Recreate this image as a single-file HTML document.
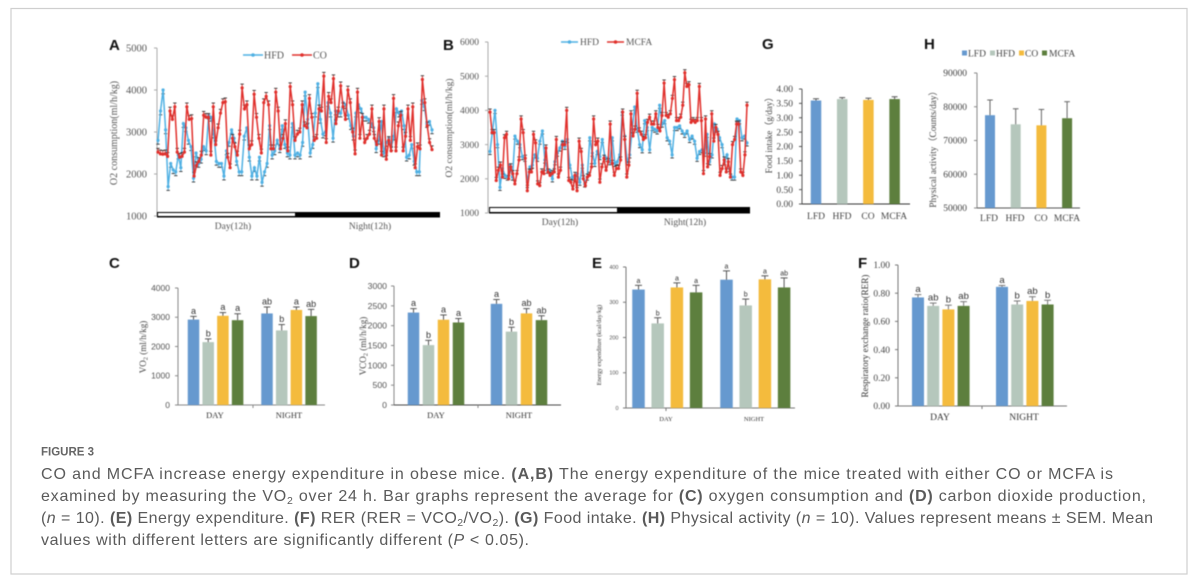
<!DOCTYPE html>
<html lang="en">
<head>
<meta charset="utf-8">
<title>Figure 3</title>
<style>
html,body{margin:0;padding:0;background:#fff;width:1200px;height:588px;overflow:hidden}
svg{display:block;position:absolute;left:0;top:0}
.serif{font-family:"Liberation Serif",serif}
.sans{font-family:"Liberation Sans",sans-serif}
.cap{font-family:"Liberation Sans",sans-serif;font-size:16px;fill:#5a5a5a}
.cap tspan.b{font-weight:bold}
.cap tspan.i{font-style:italic}
.pl{font-family:"Liberation Sans",sans-serif;font-size:15px;font-weight:bold;fill:#111}
</style>
</head>
<body>
<svg width="1200" height="588" viewBox="0 0 1200 588" xmlns="http://www.w3.org/2000/svg">
  <rect x="11" y="8.5" width="1176" height="565.5" fill="#fff" stroke="#cfcfcf" stroke-width="1.2"/>

  <g id="chart-root" style="filter:blur(.45px)">
    <text class="pl" x="109" y="50">A</text>
    <text class="pl" x="443" y="50">B</text>
    <text class="pl" x="762" y="49">G</text>
    <text class="pl" x="924" y="49">H</text>
    <text class="pl" x="109" y="268">C</text>
    <text class="pl" x="349" y="268">D</text>
    <text class="pl" x="592" y="268">E</text>
    <text class="pl" x="858" y="268">F</text>

    <text class="serif" font-size="10" fill="#555" text-anchor="middle" transform="translate(117 133) rotate(-90)">O2 consumption(ml/h/kg)</text>
    <text class="serif" font-size="9.5" fill="#555" text-anchor="middle" transform="translate(452 128) rotate(-90)">O2 consumption(ml/h/kg)</text>
    <text class="serif" font-size="9" fill="#444" text-anchor="middle" transform="translate(772 133) rotate(-90)">Food intake（g/day）</text>
    <text class="serif" font-size="9.2" fill="#444" text-anchor="middle" transform="translate(936 147) rotate(-90)">Physical activity（Counts/day）</text>
    <text class="serif" font-size="9" fill="#444" text-anchor="middle" transform="translate(146 347) rotate(-90)">VO<tspan font-size="6.5" dy="1.5">2</tspan><tspan dy="-1.5"> (ml/h/kg)</tspan></text>
    <text class="serif" font-size="9" fill="#444" text-anchor="middle" transform="translate(366 346) rotate(-90)">VCO<tspan font-size="6.5" dy="1.5">2</tspan><tspan dy="-1.5"> (ml/h/kg)</tspan></text>
    <text class="serif" font-size="6" fill="#333" text-anchor="middle" transform="translate(601 345) rotate(-90)">Energy expenditure (kcal/day/kg)</text>
    <text class="serif" font-size="9.2" fill="#333" text-anchor="middle" transform="translate(868 336) rotate(-90)">Respiratory exchange ratio(RER)</text>

    <text class="serif" font-size="9.5" fill="#555" text-anchor="middle" x="233" y="229">Day(12h)</text>
    <text class="serif" font-size="9.5" fill="#555" text-anchor="middle" x="370" y="229">Night(12h)</text>
    <text class="serif" font-size="9.5" fill="#555" text-anchor="middle" x="560" y="225">Day(12h)</text>
    <text class="serif" font-size="9.5" fill="#555" text-anchor="middle" x="685" y="225">Night(12h)</text>

    <g>
      <line x1="243" y1="55" x2="263" y2="55" stroke="#4fb0e3" stroke-width="1.5"/>
      <circle cx="253" cy="55" r="1.8" fill="#4fb0e3"/>
      <text class="serif" font-size="10" fill="#555" x="264" y="58.5">HFD</text>
      <line x1="292" y1="55" x2="312" y2="55" stroke="#e0302c" stroke-width="1.5"/>
      <circle cx="302" cy="55" r="1.8" fill="#e0302c"/>
      <text class="serif" font-size="10" fill="#555" x="313" y="58.5">CO</text>
    </g>
    <g>
      <line x1="561" y1="42" x2="578" y2="42" stroke="#4fb0e3" stroke-width="1.5"/>
      <circle cx="569.5" cy="42" r="1.8" fill="#4fb0e3"/>
      <text class="serif" font-size="9.5" fill="#555" x="580" y="45">HFD</text>
      <line x1="607" y1="42" x2="624" y2="42" stroke="#e0302c" stroke-width="1.5"/>
      <circle cx="615.5" cy="42" r="1.8" fill="#e0302c"/>
      <text class="serif" font-size="9.5" fill="#555" x="626" y="45">MCFA</text>
    </g>
    <g>
      <rect x="962" y="50.5" width="5" height="5" fill="#6699cf"/>
      <text class="serif" font-size="9.5" fill="#444" x="968" y="56.5">LFD</text>
      <rect x="990" y="50.5" width="5" height="5" fill="#b5c7bc"/>
      <text class="serif" font-size="9.5" fill="#444" x="996" y="56.5">HFD</text>
      <rect x="1019" y="50.5" width="5" height="5" fill="#f4bb3d"/>
      <text class="serif" font-size="9.5" fill="#444" x="1025" y="56.5">CO</text>
      <rect x="1042" y="50.5" width="5" height="5" fill="#5d7f3e"/>
      <text class="serif" font-size="9.5" fill="#444" x="1049" y="56.5">MCFA</text>
    </g>
  </g>

  <g style="filter:blur(.25px)">
    <text class="sans" x="41" y="455.5" font-size="11.5" font-weight="bold" fill="#666">FIGURE 3</text>
    <text class="cap" x="41" y="479" textLength="1072" lengthAdjust="spacing">CO and MCFA increase energy expenditure in obese mice. <tspan class="b">(A,B)</tspan> The energy expenditure of the mice treated with either CO or MCFA is</text>
    <text class="cap" x="41" y="501" textLength="1105" lengthAdjust="spacing">examined by measuring the VO<tspan font-size="10.5" dy="3">2</tspan><tspan dy="-3"> over 24 h. Bar graphs represent the average for </tspan><tspan class="b">(C)</tspan> oxygen consumption and <tspan class="b">(D)</tspan> carbon dioxide production,</text>
    <text class="cap" x="41" y="523" textLength="1112" lengthAdjust="spacing">(<tspan class="i">n</tspan> = 10). <tspan class="b">(E)</tspan> Energy expenditure. <tspan class="b">(F)</tspan> RER (RER = VCO<tspan font-size="10.5" dy="3">2</tspan><tspan dy="-3">/VO</tspan><tspan font-size="10.5" dy="3">2</tspan><tspan dy="-3">). </tspan><tspan class="b">(G)</tspan> Food intake. <tspan class="b">(H)</tspan> Physical activity (<tspan class="i">n</tspan> = 10). Values represent means ± SEM. Mean</text>
    <text class="cap" x="41" y="545" textLength="488" lengthAdjust="spacing">values with different letters are significantly different (<tspan class="i">P</tspan> &lt; 0.05).</text>
  </g>
</svg>

<script>
// ---- Panel A data ----
const aTicks = [1000, 2000, 3000, 4000, 5000];
const aHfd = [2800,3500,4000,3050,1700,2250,2100,2050,2450,2150,3200,3100,2800,2650,1900,2500,2250,2350,2650,2550,3400,3350,2950,2300,2250,2250,1950,2550,2750,3050,2850,2300,2050,2050,2900,3100,2400,1950,2150,1950,2400,1800,2050,2250,3150,2450,2550,2800,2600,3150,2700,2500,2450,3200,2450,2500,2450,2750,3950,3300,2500,2700,3450,4150,3300,2950,3000,3700,3450,2850,3500,3450,3450,3700,3650,3400,3150,2900,3450,3650,3550,3350,3350,3300,3200,3100,2600,2800,3250,2500,2750,2850,2650,2900,3550,3450,3500,3150,2400,2450,2700,2300,2050,2050,3750,3600,3200,3250,3050];
const aCo = [2520,2480,2470,2480,2420,3500,3300,3600,2520,2400,2420,2520,3600,3300,3320,1950,2200,2300,2450,3400,3350,3350,2450,3600,2700,3100,3450,3700,3720,2400,2150,2850,2650,2450,2950,4050,3550,3650,2600,2700,3900,3350,2850,2500,3700,3850,3650,2600,2600,3950,3500,2600,2850,3200,2550,4080,3650,2800,2950,3000,3650,3150,3100,3800,3350,2800,2850,3550,3500,4330,2750,3850,3700,4270,3200,3500,4100,3600,3300,4000,3700,3000,2480,3950,2850,3350,2750,2850,2950,3550,2850,2700,3250,2450,3550,2350,2800,2550,3800,2550,3150,3400,2550,2900,3550,2800,3600,2150,2650,2600,4250,3700,3150,2750,2580];

// ---- Panel B data ----
const bTicks = [1000, 2000, 3000, 4000, 5000, 6000];
const bHfd = [2800,3400,4000,3000,1750,2300,2100,2050,2400,2050,3250,3100,3000,2650,2600,1900,2350,2400,2700,2600,3100,3400,2550,2250,2250,2000,2500,2750,2900,3100,2950,3150,2400,2050,2000,2150,1900,2400,1850,2050,3200,2750,2450,2800,2650,3150,2650,2600,2500,3200,2450,2500,2700,3950,3250,2500,2700,3450,4100,3450,3000,2850,3700,3500,2850,3500,3450,3400,4150,3600,3700,3200,3100,2700,3500,3500,3550,3400,3300,3400,3150,3250,3100,2600,2800,2850,2750,3300,2500,2700,3600,3450,3200,3000,2500,2700,2300,2050,2050,3750,3700,3200,3250,3050];
const bMcfa = [3950,3350,3350,1950,2250,2400,2050,3200,3300,2000,2350,2150,1850,2150,2550,3750,3350,2600,1650,2200,2200,3300,3050,1850,1800,2200,2150,2900,2200,2100,2150,2200,3150,2050,2250,3000,3000,4000,1950,1900,1700,2100,1650,3100,2800,2000,1800,2050,2100,2350,3750,3000,3100,1900,2350,2600,2250,2500,3600,2450,2100,2300,2300,2550,3950,3150,2050,2400,3900,3250,3450,4500,3400,3300,3150,3200,3650,3800,3600,3600,3900,3500,3400,3850,4800,3850,3800,3900,4350,4900,3700,3700,3800,4150,5100,4700,4750,3650,3700,3650,3700,4700,3700,2150,3750,2350,2650,3900,3100,3500,3300,2100,2300,2550,2200,2500,2050,3000,3150,3600,3600,2200,2100,2700,4150];

// ---- Shared bar categories ----
const barGroups = ['DAY', 'NIGHT'];
const dietLabels = ['LFD', 'HFD', 'CO', 'MCFA'];
const barColors = ['#6699cf', '#b5c7bc', '#f4bb3d', '#5d7f3e'];

// ---- Panel C ----
const cTicks = [0, 1000, 2000, 3000, 4000];
const cValues = [[2920, 2150, 3050, 2900], [3130, 2550, 3250, 3040]];
const cErrors = [[110, 110, 110, 220], [220, 200, 100, 230]];
const cLetters = [['a', 'b', 'a', 'a'], ['ab', 'b', 'a', 'ab']];

// ---- Panel D ----
const dTicks = [0, 500, 1000, 1500, 2000, 2500, 3000];
const dValues = [[2330, 1510, 2150, 2080], [2550, 1850, 2310, 2140]];
const dErrors = [[100, 120, 120, 100], [110, 110, 120, 110]];
const dLetters = [['a', 'b', 'a', 'a'], ['a', 'b', 'ab', 'ab']];

// ---- Panel E ----
const eTicks = [0, 100, 200, 300, 400];
const eValues = [[336, 240, 342, 328], [364, 291, 365, 342]];
const eErrors = [[12, 16, 13, 20], [25, 18, 10, 27]];
const eLetters = [['a', 'b', 'a', 'a'], ['a', 'b', 'a', 'ab']];

// ---- Panel F ----
const fTicks = [0, 0.2, 0.4, 0.6, 0.8, 1];
const fValues = [[0.77, 0.71, 0.685, 0.71], [0.845, 0.72, 0.745, 0.72]];
const fErrors = [[0.02, 0.02, 0.03, 0.03], [0.01, 0.025, 0.03, 0.03]];
const fLetters = [['a', 'ab', 'b', 'ab'], ['a', 'b', 'ab', 'b']];

// ---- Panel G ----
const gTicks = [0, 0.5, 1, 1.5, 2, 2.5, 3, 3.5, 4];
const gValues = [3.6, 3.65, 3.62, 3.65];
const gErrors = [0.06, 0.05, 0.06, 0.08];

// ---- Panel H ----
const hTicks = [50000, 60000, 70000, 80000, 90000];
const hValues = [77500, 74800, 74500, 76600];
const hErrors = [4500, 4600, 4700, 4900];

const root = document.getElementById('chart-root');
const NS = 'http://www.w3.org/2000/svg';

function make(parent, tag, attrs) {
  const el = document.createElementNS(NS, tag);
  for (const k in attrs) el.setAttribute(k, attrs[k]);
  parent.appendChild(el);
  return el;
}

function linearScale(d0, d1, r0, r1) {
  return function (v) { return r0 + (v - d0) / (d1 - d0) * (r1 - r0); };
}

function drawAxes(id, ticks, o) {
  const y = linearScale(ticks[0], ticks[ticks.length - 1], o.y0, o.y1);
  const g = make(root, 'g', {});
  
  
  const yAxis = make(g, 'line', { x1: o.x0, y1: o.y0, x2: o.x0, y2: o.y1, stroke: o.axis, 'stroke-width': 1 });
  
  
  if (o.x1) {
    const xAxis = make(g, 'line', { x1: o.x0, y1: o.y0, x2: o.x1, y2: o.y0, stroke: o.xaxis || o.axis, 'stroke-width': 1 });
    
    
  }
  ticks.forEach(function (t) {
    const mark = make(g, 'line', { x1: o.x0 - 3, y1: y(t), x2: o.x0, y2: y(t), stroke: o.axis, 'stroke-width': 1 });
    
    
    const label = make(g, 'text', { x: o.labelX, y: y(t) + o.fs * 0.34, 'text-anchor': 'end', 'font-size': o.fs, fill: o.color, 'font-family': o.font });
    label.textContent = t.toFixed(o.digits || 0);
    
    
  });
  return y;
}

function drawSeries(id, values, color, err, errDir, y, x0, x1) {
  const x = linearScale(0, values.length - 1, x0, x1);
  const g = make(root, 'g', {});
  
  
  values.forEach(function (v, i) {
    const stem = make(g, 'line', { x1: x(i), x2: x(i), y1: y(v), y2: y(v + err * errDir), stroke: color, 'stroke-width': 0.9 });
    
    
    const cap = make(g, 'line', { x1: x(i) - 1.7, x2: x(i) + 1.7, y1: y(v + err * errDir), y2: y(v + err * errDir), stroke: '#333', 'stroke-width': 0.9 });
    
    
  });
  const pts = values.map(function (v, i) { return x(i).toFixed(1) + ',' + y(v).toFixed(1); }).join(' ');
  const line = make(g, 'polyline', { points: pts, fill: 'none', stroke: color, 'stroke-width': 1.5 });
  
  
  values.forEach(function (v, i) {
    const dot = make(g, 'circle', { cx: x(i), cy: y(v), r: 1.6, fill: color });
    
    
  });
}

function drawBar(id, cx, w, value, err, color, y, errColor, letter, letterFs, letterFont) {
  const bar = make(root, 'rect', { x: cx - w / 2, y: y(value), width: w, height: y.base - y(value), fill: color });
  
  
  const stem = make(root, 'line', { x1: cx, x2: cx, y1: y(value), y2: y(value + err), stroke: errColor, 'stroke-width': 1 });
  
  
  const cap = make(root, 'line', { x1: cx - w * 0.28, x2: cx + w * 0.28, y1: y(value + err), y2: y(value + err), stroke: errColor, 'stroke-width': 1 });
  
  
  if (letter) {
    const t = make(root, 'text', { x: cx, y: y(value + err) - 2.5, 'text-anchor': 'middle', 'font-size': letterFs, fill: '#333', 'font-family': letterFont });
    t.textContent = letter;
    
    
  }
}

function drawGrouped(id, ticks, values, errors, letters, o) {
  const y = drawAxes(id, ticks, o);
  y.base = o.y0;
  values.forEach(function (group, g) {
    group.forEach(function (v, i) {
      const cx = o.first + g * o.gap + i * o.step;
      drawBar(id + '-' + barGroups[g].toLowerCase() + '-' + dietLabels[i].toLowerCase(), cx, o.w, v, errors[g][i], barColors[i], y, o.errColor, letters[g][i], o.letterFs, o.letterFont);
    });
    const lbl = make(root, 'text', { x: o.catX[g], y: o.catY, 'text-anchor': 'middle', 'font-size': o.catFs, fill: '#333', 'font-family': 'Liberation Serif, serif' });
    lbl.textContent = barGroups[g];
    
    
  });
  const divider = make(root, 'line', { x1: o.tickX, x2: o.tickX, y1: o.y0, y2: o.y0 + 3, stroke: o.axis, 'stroke-width': 1 });
  
  
}

function drawSingle(id, ticks, values, errors, o) {
  const y = drawAxes(id, ticks, o);
  y.base = o.y0;
  values.forEach(function (v, i) {
    const cx = o.first + i * o.step;
    drawBar(id + '-' + dietLabels[i].toLowerCase(), cx, o.w, v, errors[i], barColors[i], y, o.errColor, '', 0, '');
    const lbl = make(root, 'text', { x: o.labelFirst + i * o.labelStep, y: o.catY, 'text-anchor': 'middle', 'font-size': 9.5, fill: '#444', 'font-family': 'Liberation Serif, serif' });
    lbl.textContent = dietLabels[i];
    
    
  });
}

// Panel A
const aY = drawAxes('a', aTicks, { x0: 157, y0: 216, y1: 48, axis: '#aaa', labelX: 147, fs: 10.5, color: '#555', font: 'Liberation Serif, serif' });
const aBarOuter = make(root, 'rect', { x: 157, y: 212, width: 283, height: 5.5, fill: '#000' });


const aBarDay = make(root, 'rect', { x: 158, y: 213, width: 137, height: 3, fill: '#fff' });


drawSeries('a-hfd', aHfd, '#4fb0e3', 90, -1, aY, 158, 432);
drawSeries('a-co', aCo, '#e0302c', 90, 1, aY, 158, 432);

// Panel B
const bY = drawAxes('b', bTicks, { x0: 488, y0: 213, y1: 42, axis: '#aaa', labelX: 479, fs: 9.5, color: '#555', font: 'Liberation Serif, serif' });
const bBarOuter = make(root, 'rect', { x: 489, y: 207, width: 261, height: 6.5, fill: '#000' });


const bBarDay = make(root, 'rect', { x: 490, y: 208, width: 127, height: 4, fill: '#fff' });


drawSeries('b-hfd', bHfd, '#4fb0e3', 90, -1, bY, 490, 747);
drawSeries('b-mcfa', bMcfa, '#e0302c', 90, 1, bY, 490, 747);

// Panels C-F
drawGrouped('c', cTicks, cValues, cErrors, cLetters, { x0: 178, x1: 325, y0: 405, y1: 288, axis: '#888', labelX: 170, fs: 8.5, color: '#555', font: 'Liberation Sans, sans-serif', first: 193.5, gap: 73.5, step: 14.7, w: 11.5, errColor: '#555', letterFs: 9, letterFont: 'Liberation Sans, sans-serif', catX: [215, 289], catY: 418, catFs: 8.5, tickX: 253 });
drawGrouped('d', dTicks, dValues, dErrors, dLetters, { x0: 394, x1: 561, xaxis: '#444', y0: 405, y1: 286, axis: '#888', labelX: 387, fs: 8.7, color: '#555', font: 'Liberation Sans, sans-serif', first: 413.5, gap: 83, step: 15, w: 11.5, errColor: '#555', letterFs: 9, letterFont: 'Liberation Sans, sans-serif', catX: [436, 519], catY: 418, catFs: 8.5, tickX: 478 });
drawGrouped('e', eTicks, eValues, eErrors, eLetters, { x0: 626, x1: 795, y0: 408, y1: 267, axis: '#777', labelX: 618.5, fs: 5.5, color: '#555', font: 'Liberation Sans, sans-serif', first: 638.5, gap: 88, step: 19.2, w: 12.5, errColor: '#555', letterFs: 7, letterFont: 'Liberation Sans, sans-serif', catX: [666, 754], catY: 421, catFs: 6.5, tickX: 666 });
drawGrouped('f', fTicks, fValues, fErrors, fLetters, { x0: 898, x1: 1067, y0: 406, y1: 265, axis: '#777', labelX: 890, fs: 9.5, color: '#444', font: 'Liberation Serif, serif', digits: 2, first: 918, gap: 84, step: 15.2, w: 12, errColor: '#777', letterFs: 9.5, letterFont: 'Liberation Sans, sans-serif', catX: [940, 1024], catY: 420, catFs: 9.5, tickX: 982 });

// Panels G-H
drawSingle('g', gTicks, gValues, gErrors, { x0: 802, x1: 910, xaxis: '#333', y0: 204, y1: 89, axis: '#555', labelX: 793, fs: 9.5, color: '#444', font: 'Liberation Serif, serif', digits: 2, first: 816, step: 26.2, w: 10.5, errColor: '#555', labelFirst: 816, labelStep: 26, catY: 219 });
drawSingle('h', hTicks, hValues, hErrors, { x0: 977, x1: 1080, xaxis: '#555', y0: 208, y1: 73, axis: '#888', labelX: 967, fs: 9.5, color: '#444', font: 'Liberation Serif, serif', first: 990, step: 25.7, w: 10, errColor: '#666', labelFirst: 989, labelStep: 26, catY: 221 });
</script>
</body>
</html>
